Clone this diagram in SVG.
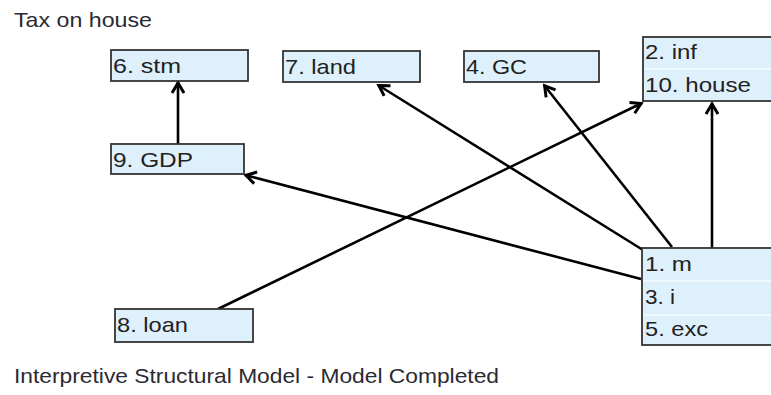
<svg xmlns="http://www.w3.org/2000/svg" width="771" height="395" viewBox="0 0 771 395">
<style>
.bg{fill:#ffffff}
.box{fill:#dff0fd;stroke:#333333;stroke-width:1.8}
.div{stroke:#f4faff;stroke-width:1.5}
.lbl{font-family:"Liberation Sans",Arial,sans-serif;font-size:21px;fill:#222222}
.cap{font-family:"Liberation Sans",Arial,sans-serif;font-size:21px;fill:#2a2a33}
.edge{stroke:#000000;stroke-width:2.6;fill:none;marker-end:url(#arr)}
</style>
<defs>
<marker id="arr" markerUnits="userSpaceOnUse" markerWidth="20" markerHeight="20" viewBox="-14 -10 18 20" refX="1" refY="0" orient="auto">
<path d="M-10,-6 L0,0 L-10,6" fill="none" stroke="#000000" stroke-width="3"/>
</marker>
</defs>
<rect class="bg" x="0" y="0" width="771" height="395"/>
<text class="cap" x="14" y="27" textLength="138" lengthAdjust="spacingAndGlyphs">Tax on house</text>
<text class="cap" x="14" y="383" textLength="485" lengthAdjust="spacingAndGlyphs">Interpretive Structural Model - Model Completed</text>

<g id="connectors">
<line class="edge" x1="178" y1="144" x2="178" y2="82"/>
<line class="edge" x1="641" y1="279" x2="245" y2="175"/>
<line class="edge" x1="643" y1="250" x2="378" y2="85"/>
<line class="edge" x1="672" y1="247" x2="544" y2="85"/>
<line class="edge" x1="712" y1="248" x2="712" y2="103"/>
<line class="edge" x1="218" y1="309" x2="642" y2="103"/>
</g>

<g id="n6">
<rect class="box" x="111" y="50" width="137" height="31"/>
<text class="lbl" x="113" y="73" textLength="68" lengthAdjust="spacingAndGlyphs">6. stm</text>
</g>
<g id="n7">
<rect class="box" x="283" y="51" width="137" height="31"/>
<text class="lbl" x="285" y="74" textLength="71" lengthAdjust="spacingAndGlyphs">7. land</text>
</g>
<g id="n4">
<rect class="box" x="464" y="51" width="135" height="31"/>
<text class="lbl" x="466" y="74" textLength="61" lengthAdjust="spacingAndGlyphs">4. GC</text>
</g>
<g id="n9">
<rect class="box" x="111" y="144" width="133" height="30"/>
<text class="lbl" x="113" y="167" textLength="80" lengthAdjust="spacingAndGlyphs">9. GDP</text>
</g>
<g id="n2_10">
<rect class="box" x="643" y="37" width="140" height="64"/>
<line class="div" x1="644" y1="69" x2="771" y2="69"/>
<text class="lbl" x="645" y="59" textLength="52" lengthAdjust="spacingAndGlyphs">2. inf</text>
<text class="lbl" x="645" y="92" textLength="106" lengthAdjust="spacingAndGlyphs">10. house</text>
</g>
<g id="n8">
<rect class="box" x="115" y="309" width="138" height="33"/>
<text class="lbl" x="117" y="332" textLength="71" lengthAdjust="spacingAndGlyphs">8. loan</text>
</g>
<g id="n1_3_5">
<rect class="box" x="642" y="248" width="140" height="97"/>
<line class="div" x1="643" y1="281" x2="771" y2="281"/>
<line class="div" x1="643" y1="315" x2="771" y2="315"/>
<text class="lbl" x="645" y="271" textLength="47" lengthAdjust="spacingAndGlyphs">1. m</text>
<text class="lbl" x="645" y="304" textLength="30" lengthAdjust="spacingAndGlyphs">3. i</text>
<text class="lbl" x="645" y="336" textLength="63" lengthAdjust="spacingAndGlyphs">5. exc</text>
</g>
</svg>
